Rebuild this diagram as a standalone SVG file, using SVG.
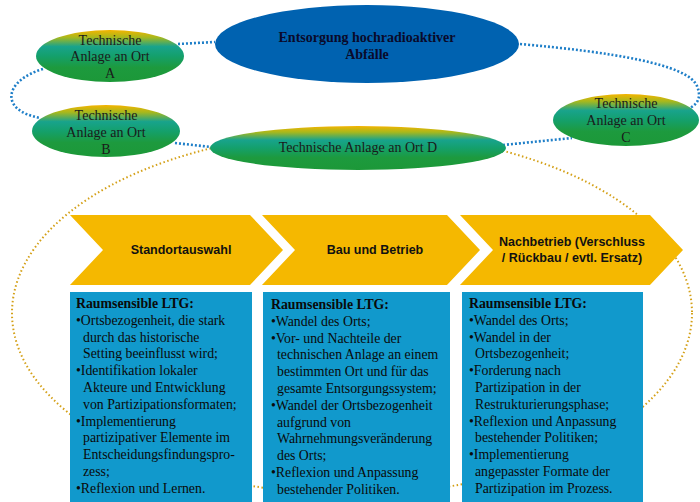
<svg xmlns="http://www.w3.org/2000/svg" width="700" height="502" viewBox="0 0 700 502">
<defs>
<linearGradient id="gg" x1="0" y1="0" x2="0" y2="1">
<stop offset="0" stop-color="#f5b400"/>
<stop offset="0.14" stop-color="#a8b81c"/>
<stop offset="0.32" stop-color="#18a38c"/>
<stop offset="0.5" stop-color="#14a06c"/>
<stop offset="0.72" stop-color="#1d9a3e"/>
<stop offset="1" stop-color="#1c9838"/>
</linearGradient>
<style>
.blue{fill:none;stroke:#1f7fc8;stroke-width:2.6;stroke-dasharray:2 2}
.yel{fill:none;stroke:#d4a017;stroke-width:2;stroke-dasharray:1.5 2.5}
.g{fill:url(#gg)}
.nt{font-family:"Liberation Serif",serif;font-size:14px;fill:#1a1a1a;text-anchor:middle}
.mt{font-family:"Liberation Serif",serif;font-size:14px;font-weight:bold;fill:#0a0a2a;text-anchor:middle}
.chev{fill:#f5b800}
.ct{font-family:"Liberation Sans",sans-serif;font-size:12.5px;font-weight:bold;fill:#111;text-anchor:middle}
.box{fill:#1199cc}
.bt{font-family:"Liberation Serif",serif;font-size:13.8px;fill:#0a0a0a}
.bh{font-weight:bold}
</style>
</defs>
<rect width="700" height="502" fill="#ffffff"/>
<g id="connectors">
<ellipse class="yel" cx="352" cy="313" rx="340" ry="181"/>
<path class="blue" d="M178,44 L215,42"/>
<path class="blue" d="M43,69 C5,80 -2,110 40,118"/>
<path class="blue" d="M175,143 L211,147"/>
<path class="blue" d="M503,145 L572,138"/>
<path class="blue" d="M520,44 C610,52 688,64 697,86 C702,98 697,104 690,108"/>
</g>
<g id="main">
<ellipse cx="367" cy="44" rx="152" ry="39" fill="#0062b0"/>
<text class="mt" x="367" y="42">Entsorgung hochradioaktiver</text>
<text class="mt" x="367" y="59">Abfälle</text>
</g>
<g id="nodeA">
<ellipse class="g" cx="110" cy="56" rx="74" ry="26"/>
<text class="nt" x="110" y="45">Technische</text>
<text class="nt" x="110" y="61">Anlage  an Ort</text>
<text class="nt" x="110" y="78">A</text>
</g>
<g id="nodeB">
<ellipse class="g" cx="106" cy="131" rx="74" ry="26"/>
<text class="nt" x="106" y="120">Technische</text>
<text class="nt" x="106" y="137">Anlage  an Ort</text>
<text class="nt" x="106" y="154">B</text>
</g>
<g id="nodeC">
<ellipse class="g" cx="626" cy="120" rx="73" ry="26"/>
<text class="nt" x="626" y="108">Technische</text>
<text class="nt" x="626" y="125">Anlage  an Ort</text>
<text class="nt" x="626" y="142">C</text>
</g>
<g id="nodeD">
<ellipse class="g" cx="358" cy="148" rx="148" ry="22"/>
<text class="nt" x="358" y="152">Technische Anlage  an Ort D</text>
</g>
<g id="phase1">
<polygon class="chev" points="70,215 250,215 283,250 250,285 70,285 103,250"/>
<text class="ct" x="181" y="254">Standortauswahl</text>
</g>
<g id="phase2">
<polygon class="chev" points="262,215 447,215 480,250 447,285 262,285 295,250"/>
<text class="ct" x="375" y="254">Bau und Betrieb</text>
</g>
<g id="phase3">
<polygon class="chev" points="460,215 650,215 683,250 650,285 460,285 493,250"/>
<text class="ct" x="572" y="246">Nachbetrieb (Verschluss</text>
<text class="ct" x="572" y="262">/ Rückbau / evtl. Ersatz)</text>
</g>
<g id="box1">
<rect class="box" x="70" y="292" width="182" height="212"/>
<text class="bt">
<tspan class="bh" x="76" y="308">Raumsensible LTG:</tspan>
<tspan x="76" y="324.8">•Ortsbezogenheit, die stark</tspan>
<tspan x="83" y="341.6">durch das historische</tspan>
<tspan x="83" y="358.4">Setting beeinflusst wird;</tspan>
<tspan x="76" y="375.2">•Identifikation  lokaler</tspan>
<tspan x="83" y="392">Akteure und Entwicklung</tspan>
<tspan x="83" y="408.8">von Partizipationsformaten;</tspan>
<tspan x="76" y="425.6">•Implementierung</tspan>
<tspan x="83" y="442.4">partizipativer  Elemente  im</tspan>
<tspan x="83" y="459.2">Entscheidungsfindungspro-</tspan>
<tspan x="83" y="476">zess;</tspan>
<tspan x="76" y="492.8">•Reflexion und Lernen.</tspan>
</text>
</g>
<g id="box2">
<rect class="box" x="263" y="292" width="187" height="212"/>
<text class="bt">
<tspan class="bh" x="271" y="309">Raumsensible LTG:</tspan>
<tspan x="271" y="325.8">•Wandel des Orts;</tspan>
<tspan x="271" y="342.6">•Vor- und Nachteile  der</tspan>
<tspan x="277" y="359.4">technischen Anlage  an einem</tspan>
<tspan x="277" y="376.2">bestimmten  Ort und für das</tspan>
<tspan x="277" y="393">gesamte Entsorgungssystem;</tspan>
<tspan x="271" y="409.8">•Wandel der Ortsbezogenheit</tspan>
<tspan x="277" y="426.6">aufgrund  von</tspan>
<tspan x="277" y="443.4">Wahrnehmungsveränderung</tspan>
<tspan x="277" y="460.2">des Orts;</tspan>
<tspan x="271" y="477">•Reflexion  und Anpassung</tspan>
<tspan x="277" y="493.8">bestehender Politiken.</tspan>
</text>
</g>
<g id="box3">
<rect class="box" x="462" y="292" width="181" height="212"/>
<text class="bt">
<tspan class="bh" x="469" y="308">Raumsensible LTG:</tspan>
<tspan x="469" y="324.8">•Wandel des Orts;</tspan>
<tspan x="469" y="341.6">•Wandel in  der</tspan>
<tspan x="475" y="358.4">Ortsbezogenheit;</tspan>
<tspan x="469" y="375.2">•Forderung nach</tspan>
<tspan x="475" y="392">Partizipation  in der</tspan>
<tspan x="475" y="408.8">Restrukturierungsphase;</tspan>
<tspan x="469" y="425.6">•Reflexion  und Anpassung</tspan>
<tspan x="475" y="442.4">bestehender Politiken;</tspan>
<tspan x="469" y="459.2">•Implementierung</tspan>
<tspan x="475" y="476">angepasster Formate der</tspan>
<tspan x="475" y="492.8">Partizipation  im Prozess.</tspan>
</text>
</g>
</svg>
